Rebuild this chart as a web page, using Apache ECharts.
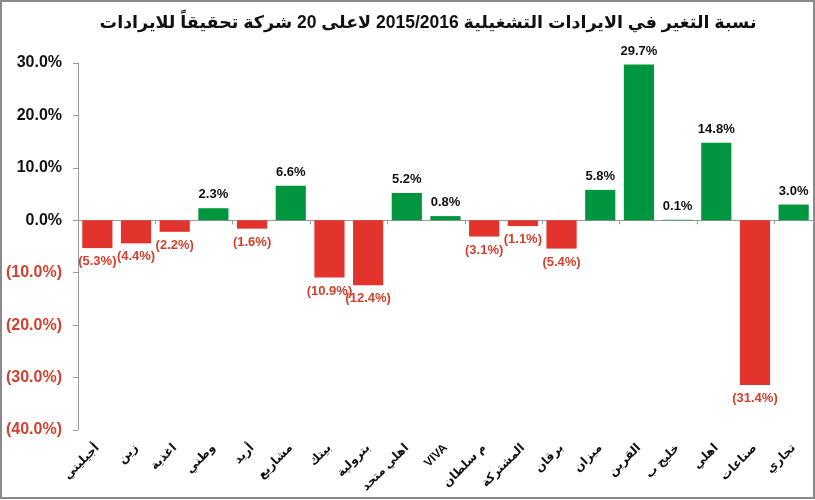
<!DOCTYPE html>
<html><head><meta charset="utf-8">
<script src="https://cdn.jsdelivr.net/npm/echarts@6/dist/echarts.min.js"></script>
<style>html,body{margin:0;padding:0;background:#fff}#c{width:815px;height:500px}</style>
</head><body><div id="c"></div>
<script>
const categories = ['أجيليتي','زين','اغذية','وطني','أريد','مشاريع','بيتك','بترولية','اهلي متحد','VIVA','م سلطان','المشتركة','برقان','ميزان','القرين','خليج ب','اهلي','صناعات','تجاري'];
const values = [-5.3,-4.4,-2.2,2.3,-1.6,6.6,-10.9,-12.4,5.2,0.8,-3.1,-1.1,-5.4,5.8,29.7,0.1,14.8,-31.4,3.0];
const titleText = 'نسبة التغير في الايرادات التشغيلية 2015/2016 لاعلى 20 شركة تحقيقاً للايرادات';

const GREEN = '#00963f', RED = '#e2342d', RED_TXT = '#d2412f';
const FONT = '"Liberation Sans", "DejaVu Sans", Arial, sans-serif';
const fmt = v => v < 0 ? '(' + Math.abs(v).toFixed(1) + '%)' : v.toFixed(1) + '%';

const data = values.map(v => ({
  value: v,
  itemStyle: { color: v < 0 ? RED : GREEN },
  label: { position: v < 0 ? 'bottom' : 'top', color: v < 0 ? RED_TXT : '#111' }
}));

const chart = echarts.init(document.getElementById('c'));
chart.setOption({
  animation: false,
  backgroundColor: '#fff',
  graphic: [{
    type: 'rect', shape: { x: 1, y: 1, width: 813, height: 497 },
    style: { fill: 'none', stroke: '#8a8a8a', lineWidth: 2 }, silent: true
  }, {
    type: 'text', x: 428, y: 23,
    style: { text: titleText, textAlign: 'center', textVerticalAlign: 'middle',
      font: 'bold 17.5px ' + FONT, fill: '#111' }
  }],
  grid: { left: 78, right: 2, top: 63, bottom: 70, containLabel: false, outerBoundsMode: 'none' },
  xAxis: [{
    type: 'category', data: categories,
    axisLine: { onZero: true, lineStyle: { color: '#9a9a9a', width: 1 } },
    axisTick: { show: true, length: 4, lineStyle: { color: '#9a9a9a' } },
    axisLabel: { show: false }
  }, {
    type: 'category', data: categories, position: 'bottom',
    axisLine: { show: false, onZero: false }, axisTick: { show: false },
    axisLabel: { interval: 0, rotate: 45, margin: 16, fontFamily: FONT, fontWeight: 'bold', fontSize: 12, color: '#111' }
  }],
  yAxis: {
    type: 'value', min: -40, max: 30, interval: 10,
    splitLine: { show: false },
    axisLine: { show: true, lineStyle: { color: '#9a9a9a' } },
    axisTick: { show: true, length: 5, lineStyle: { color: '#9a9a9a' } },
    axisLabel: {
      margin: 16, fontFamily: FONT, fontWeight: 'bold', fontSize: 16,
      formatter: v => fmt(v),
      color: v => v < 0 ? RED_TXT : '#111'
    }
  },
  series: [{
    type: 'bar', data: data, barCategoryGap: '22%',
    label: { show: true, distance: 7, fontFamily: FONT, fontWeight: 'bold', fontSize: 13, formatter: p => fmt(p.value) }
  }]
});
</script></body></html>
